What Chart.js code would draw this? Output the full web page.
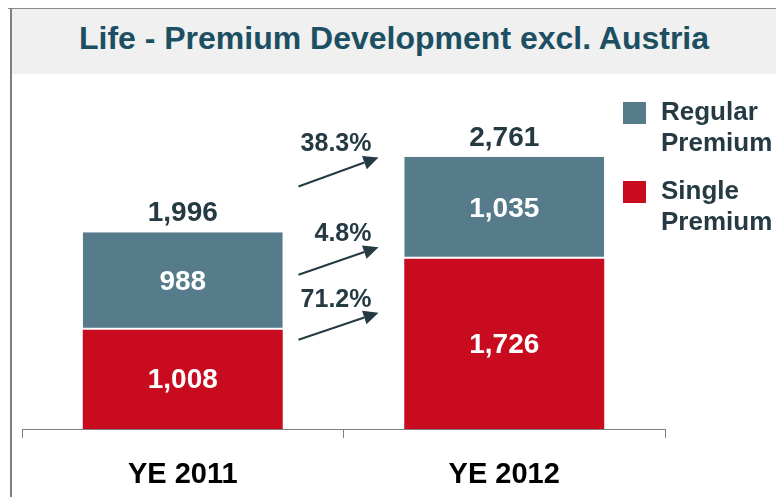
<!DOCTYPE html>
<html>
<head>
<meta charset="utf-8">
<script src="https://cdn.jsdelivr.net/npm/chart.js@4"></script>
<style>
  body { margin: 0; background: #fff; width: 776px; height: 497px; overflow: hidden; position: relative; }
  #frameTop { position: absolute; left: 8px; top: 8px; width: 768px; height: 1px; background: #8c8c8c; }
  #frameLeft { position: absolute; left: 10px; top: 8px; width: 2px; height: 489px; background: #7f7f7f; }
  #title { position: absolute; left: 12px; top: 9px; width: 764px; height: 65px; background: #f0f0f0;
           color: #1d4f62; text-align: center;
           font: bold 32px 'Liberation Sans', Arial, sans-serif; line-height: 58px; }
  #wrap { position: absolute; left: 0; top: 0; width: 776px; height: 497px; }
</style>
</head>
<body>
<div id="frameTop"></div>
<div id="frameLeft"></div>
<div id="title">Life - Premium Development excl. Austria</div>
<div id="wrap"><canvas id="premiumChart" width="776" height="497"></canvas></div>
<script>
// Dados
const categories = ['YE 2011', 'YE 2012'];
const singlePremium = [1008, 1726];
const regularPremium = [988, 1035];
const totals = [1996, 2761];
const seriesNames = [['Single', 'Premium'], ['Regular', 'Premium']];
const seriesColors = ['#c80b1e', '#567b8b'];
// Setas de crescimento: texto e valores de início/fim (eixo y)
const growthLabels = ['38.3%', '4.8%', '71.2%'];
const arrowFrom = [2460, 1565, 905];
const arrowTo = [2755, 1845, 1180];

const darkText = '#253a42';
const mainFont = "'Liberation Sans', Arial, sans-serif";

function fmt(v) {
    return v.toLocaleString('en-US');
}

// Rótulos dentro das barras e totais acima
const valueLabels = {
    id: 'valueLabels',
    afterDatasetsDraw(chart) {
        const ctx = chart.ctx;
        ctx.save();
        ctx.textAlign = 'center';
        ctx.textBaseline = 'middle';
        ctx.font = 'bold 28px ' + mainFont;
        ctx.fillStyle = '#fff';
        chart.data.datasets.forEach((ds, i) => {
            chart.getDatasetMeta(i).data.forEach((bar, j) => {
                ctx.fillText(fmt(ds.data[j]), bar.x, (bar.y + bar.base) / 2 + 1);
            });
        });
        ctx.fillStyle = darkText;
        const top = chart.getDatasetMeta(chart.data.datasets.length - 1).data;
        top.forEach((bar, j) => {
            ctx.fillText(fmt(totals[j]), bar.x, bar.y - 19);
        });
        ctx.restore();
    }
};

// Setas com percentuais entre as barras
const growthArrows = {
    id: 'growthArrows',
    afterDatasetsDraw(chart) {
        const ctx = chart.ctx;
        const xs = chart.scales.x, ys = chart.scales.y;
        const mid = (xs.getPixelForValue(0) + xs.getPixelForValue(1)) / 2;
        const x0 = mid - 45, x1 = mid + 35;
        ctx.save();
        ctx.strokeStyle = darkText;
        ctx.fillStyle = darkText;
        ctx.lineWidth = 2;
        growthLabels.forEach((label, i) => {
            const y0 = ys.getPixelForValue(arrowFrom[i]);
            const y1 = ys.getPixelForValue(arrowTo[i]);
            const ang = Math.atan2(y1 - y0, x1 - x0);
            const len = 15, half = 7;
            const bx = x1 - len * Math.cos(ang), by = y1 - len * Math.sin(ang);
            ctx.beginPath();
            ctx.moveTo(x0, y0);
            ctx.lineTo(bx, by);
            ctx.stroke();
            ctx.beginPath();
            ctx.moveTo(x1, y1);
            ctx.lineTo(bx + half * Math.sin(ang), by - half * Math.cos(ang));
            ctx.lineTo(bx - half * Math.sin(ang), by + half * Math.cos(ang));
            ctx.closePath();
            ctx.fill();
            ctx.font = 'bold 25px ' + mainFont;
            ctx.textAlign = 'right';
            ctx.textBaseline = 'middle';
            ctx.fillText(label, x1 - 7, y1 - 13);
        });
        ctx.restore();
    }
};

// Legenda à direita (ordem invertida: Regular em cima)
const sideLegend = {
    id: 'sideLegend',
    afterDraw(chart) {
        const ctx = chart.ctx;
        ctx.save();
        ctx.font = 'bold 26px ' + mainFont;
        ctx.textBaseline = 'middle';
        ctx.textAlign = 'left';
        const rows = chart.data.datasets.slice().reverse();
        rows.forEach((ds, k) => {
            const top = 102 + k * 79;
            ctx.fillStyle = ds.backgroundColor;
            ctx.fillRect(623, top, 23, 22);
            ctx.fillStyle = darkText;
            ds.label.forEach((line, n) => {
                ctx.fillText(line, 661, top + 11 + n * 31);
            });
        });
        ctx.restore();
    }
};

const chart = new Chart(document.getElementById('premiumChart'), {
    type: 'bar',
    data: {
        labels: categories,
        datasets: [{
            label: seriesNames[0],
            data: singlePremium,
            backgroundColor: seriesColors[0],
            borderWidth: 0
        }, {
            label: seriesNames[1],
            data: regularPremium,
            backgroundColor: seriesColors[1],
            borderColor: '#fff',
            borderSkipped: false,
            borderWidth: { top: 0, left: 0, right: 0, bottom: 2 }
        }]
    },
    options: {
        responsive: false,
        animation: false,
        devicePixelRatio: 1,
        categoryPercentage: 1,
        barPercentage: 0.622,
        layout: { padding: { left: 22, right: 111, top: 84, bottom: 0 } },
        scales: {
            x: {
                stacked: true,
                afterFit(scale) { scale.height = 68; },
                grid: { offset: true, drawOnChartArea: false, tickLength: 9, color: '#808080' },
                border: { color: '#808080', width: 1 },
                ticks: { color: '#000', padding: 20, font: { family: mainFont, size: 29, weight: 'bold' } }
            },
            y: { stacked: true, display: false, min: 0, max: 3500 }
        },
        plugins: {
            legend: { display: false },
            tooltip: { enabled: false }
        }
    },
    plugins: [valueLabels, growthArrows, sideLegend]
});
</script>
</body>
</html>
